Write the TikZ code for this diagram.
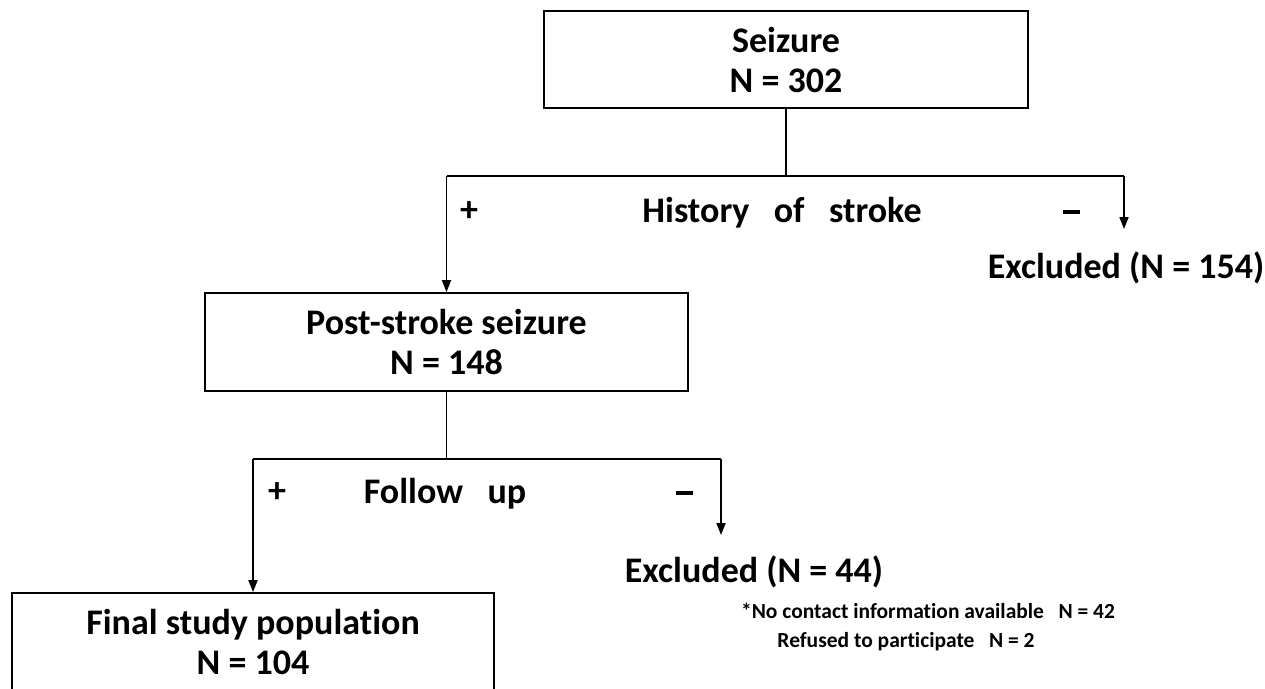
\documentclass[tikz,border=0pt]{standalone}
\usepackage{fontspec}
\setmainfont{Carlito}[RawFeature=-liga]
\usetikzlibrary{arrows.meta,positioning}

\begin{document}
\begin{tikzpicture}[x=1pt,y=-1pt,line width=1.8pt,
    box/.style={draw, align=center, inner sep=0pt, font=\fontsize{36}{40}\selectfont\bfseries},
    lbl/.style={inner sep=0pt, font=\fontsize{36}{40}\selectfont\bfseries},
    minusbar/.style={inner sep=0pt},
    note/.style={inner sep=0pt, font=\fontsize{21.5}{26}\selectfont\bfseries},
    arr/.style={-{Triangle[width=9pt,length=12pt]}}]
    \useasboundingbox (0,0) rectangle (1265,688);
    % boxes
    \node[box, minimum width=484pt, minimum height=97pt] (seizure) at (786,59.5) {Seizure\\N = 302};
    \node[box, minimum width=483pt, minimum height=98pt] (post) at (446.5,342) {Post-stroke seizure\\N = 148};
    \node[box, minimum width=482pt, minimum height=98pt] (final) at (253,642) {Final study population\\N = 104};
    % history of stroke
    \coordinate (histL) at (446.5,176);
    \coordinate (histR) at (1124,176);
    \coordinate (exA) at (1124,229);
    \draw (seizure.south) -- (seizure.south |- histL);
    \draw (histL) -- (histR);
    \draw[arr] (histL) -- (post.north);
    \draw[arr] (histR) -- (exA);
    \node[lbl] (plusA) at (469,212) {+};
    \node[lbl] (histT) at (782,213) {History\ \ \ of\ \ \ stroke};
    \node[minusbar] (minusA) at (1071,212) {\rule{17pt}{3.5pt}};
    \node[lbl] (exclA) at (1126,268) {Excluded (N = 154)};
    % follow up
    \coordinate (fupL) at (253,459);
    \coordinate (fupR) at (721,459);
    \coordinate (exB) at (721,535);
    \draw (post.south) -- (post.south |- fupL);
    \draw (fupL) -- (fupR);
    \draw[arr] (fupL) -- (final.north);
    \draw[arr] (fupR) -- (exB);
    \node[lbl] (plusB) at (277,493) {+};
    \node[lbl] (fupT) at (445,494) {Follow\ \ \ up};
    \node[minusbar] (minusB) at (684,493) {\rule{17pt}{3.5pt}};
    \node[lbl] (exclB) at (754,572) {Excluded (N = 44)};
    \node[note] (noteA) at (928,611) {*No contact information available\ \ \ N = 42};
    \node[note] (noteB) at (906,642) {Refused to participate\ \ \ N = 2};
\end{tikzpicture}
\end{document}
